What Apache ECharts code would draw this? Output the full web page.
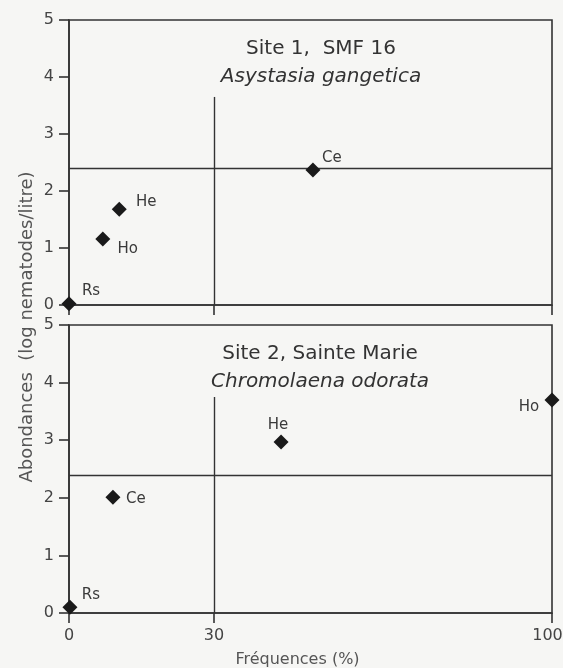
<!DOCTYPE html>
<html>
<head>
<meta charset="utf-8">
<script src="https://cdn.jsdelivr.net/npm/echarts@6/dist/echarts.min.js"></script>
<style>
  html, body { margin: 0; padding: 0; background: #f6f6f4; }
  #chart { width: 563px; height: 668px; }
</style>
</head>
<body>
<div id="chart"></div>
<script>
// site 1 (SMF 16, Asystasia gangetica)
var site1Names = ['Rs', 'Ho', 'He', 'Ce'];
var site1Freq = [0, 7, 10.4, 50.5];
var site1Abund = [0.02, 1.16, 1.68, 2.37];

// site 2 (Sainte Marie, Chromolaena odorata)
var site2Names = ['Rs', 'Ce', 'He', 'Ho'];
var site2Freq = [0.2, 9.1, 43.9, 100];
var site2Abund = [0.1, 2.01, 2.97, 3.7];

var yTicks = [0, 1, 2, 3, 4, 5];
var xTicks = [0, 30, 100];
var splitAbund = [2.4, 2.4];     // horizontal split line per site
var splitFreq = 30;
var splitTop = [3.65, 3.75];     // top end of the vertical line per site

// label centre offsets from the marker centre
var labelOff1 = { Rs: [22, -13], Ho: [25, 10], He: [27, -7], Ce: [19, -12] };
var labelOff2 = { Rs: [21, -12], Ce: [23, 2], He: [-3, -17], Ho: [-23, 7] };

var ink = '#333';
var font = 'DejaVu Sans';

function points(names, xs, ys, off) {
  return names.map(function (n, i) {
    return {
      value: [xs[i], ys[i]],
      name: n,
      label: { show: true, formatter: n, position: 'inside', offset: off[n] }
    };
  });
}

function series(idx, names, xs, ys, off) {
  return {
    type: 'scatter',
    xAxisIndex: idx,
    yAxisIndex: idx,
    symbol: 'diamond',
    symbolSize: 15,
    itemStyle: { color: '#1a1a1a', opacity: 1 },
    label: { color: '#3a3a3a', fontSize: 15, fontFamily: font },
    data: points(names, xs, ys, off),
    markLine: {
      silent: true,
      symbol: 'none',
      label: { show: false },
      lineStyle: { color: ink, width: 1.4, type: 'solid' },
      data: [
        { yAxis: splitAbund[idx] },
        [{ coord: [splitFreq, splitTop[idx]] }, { coord: [splitFreq, 0] }]
      ]
    },
    z: 5
  };
}

function xAxis(idx, withLabels) {
  return {
    type: 'value',
    gridIndex: idx,
    min: 0, max: 100,
    axisLine: { show: true, onZero: false, lineStyle: { color: ink, width: 1.6 } },
    axisTick: { show: true, length: 10, customValues: xTicks, lineStyle: { color: ink, width: 1.6 } },
    axisLabel: {
      show: withLabels, customValues: xTicks, margin: 15,
      color: '#444', fontSize: 16, fontFamily: font,
      formatter: function (v) { return v === 100 ? '{last|100}' : String(v); },
      rich: { last: { color: '#444', fontSize: 16, fontFamily: font, padding: [0, 9, 0, 0] } }
    },
    splitLine: { show: false },
    name: withLabels ? 'Fréquences (%)' : '',
    nameLocation: 'middle',
    nameGap: 39,
    nameTextStyle: { color: '#555', fontSize: 16, fontFamily: font, padding: [0, 26, 0, 0] }
  };
}

function yAxis(idx) {
  return {
    type: 'value',
    gridIndex: idx,
    min: 0, max: 5, interval: 1,
    axisLine: { show: true, lineStyle: { color: ink, width: 1.6 } },
    axisTick: { show: true, length: 10, lineStyle: { color: ink, width: 1.6 } },
    axisLabel: {
      margin: 15, color: '#444', fontSize: 16, fontFamily: font,
      formatter: function (v) { return yTicks.indexOf(v) >= 0 ? String(v) : ''; }
    },
    splitLine: { show: false }
  };
}

var titleStyle = { color: '#333', fontSize: 20, fontWeight: 'normal', fontFamily: font };
var subStyle = { color: '#333', fontSize: 20, fontStyle: 'italic', fontFamily: font };

var chart = echarts.init(document.getElementById('chart'));
chart.setOption({
  backgroundColor: '#f6f6f4',
  animation: false,
  title: [
    {
      text: 'Site 1,  SMF 16', subtext: 'Asystasia gangetica',
      left: 316, top: 34, textAlign: 'center', itemGap: 8,
      textStyle: titleStyle, subtextStyle: subStyle
    },
    {
      text: 'Site 2, Sainte Marie', subtext: 'Chromolaena odorata',
      left: 315, top: 339, textAlign: 'center', itemGap: 8,
      textStyle: titleStyle, subtextStyle: subStyle
    }
  ],
  graphic: [{
    type: 'text',
    x: 27, y: 327,
    rotation: Math.PI / 2,
    style: {
      text: 'Abondances  (log nematodes/litre)',
      fill: '#555', fontSize: 18, fontFamily: font,
      align: 'center', verticalAlign: 'middle'
    }
  }],
  grid: [
    { left: 69, right: 11, top: 20, height: 285, show: true, borderColor: ink, borderWidth: 1.6, backgroundColor: 'transparent', outerBoundsMode: 'none', containLabel: false },
    { left: 69, right: 11, top: 325, height: 288, show: true, borderColor: ink, borderWidth: 1.6, backgroundColor: 'transparent', outerBoundsMode: 'none', containLabel: false }
  ],
  xAxis: [xAxis(0, false), xAxis(1, true)],
  yAxis: [yAxis(0), yAxis(1)],
  series: [
    series(0, site1Names, site1Freq, site1Abund, labelOff1),
    series(1, site2Names, site2Freq, site2Abund, labelOff2)
  ]
});
</script>
</body>
</html>
